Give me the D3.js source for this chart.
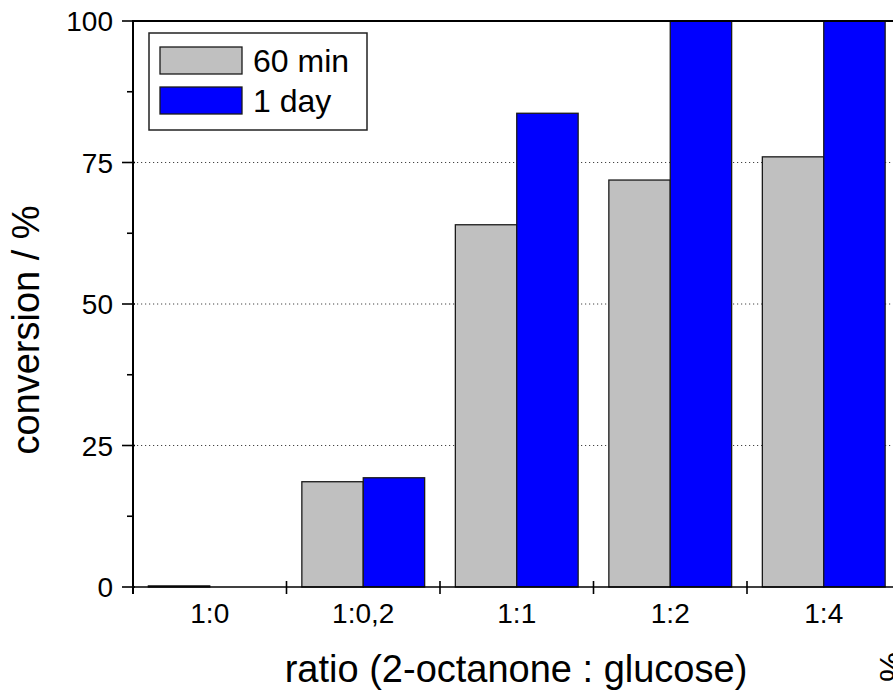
<!DOCTYPE html>
<html>
<head>
<meta charset="utf-8">
<script src="https://cdn.jsdelivr.net/npm/d3@7"></script>
<style>
  html, body { margin: 0; padding: 0; background: #fff; }
  svg { display: block; font-family: "Liberation Sans", Arial, Helvetica, sans-serif; }
</style>
</head>
<body>
<svg id="chart" width="893" height="690"></svg>
<script>
const categories = ["1:0", "1:0,2", "1:1", "1:2", "1:4"];
const seriesNames = ["60 min", "1 day"];
const values60min = [0.2, 18.6, 64.0, 71.9, 76.0];
const values1day = [0, 19.3, 83.7, 100, 100];
const seriesColors = ["#c0c0c0", "#0000ff"];
const yTicks = [0, 25, 50, 75, 100];
const yMinorTicks = [12.5, 37.5, 62.5, 87.5];
const gridTicks = [25, 50, 75];

(function () {
const svg = d3.select("#chart");
const pLeft = 133, pRight = 900.5, pTop = 21, pBottom = 587;

const x = d3.scaleBand().domain(categories).range([pLeft, pRight]).paddingInner(0).paddingOuter(0);
const inner = d3.scaleBand().domain(seriesNames).range([0, x.bandwidth()]).paddingOuter(0.25).paddingInner(0);
const y = d3.scaleLinear().domain([0, 100]).range([pBottom, pTop]);

// grid lines
svg.append("g").selectAll("line").data(gridTicks).join("line")
  .attr("x1", pLeft).attr("x2", 893)
  .attr("y1", d => y(d)).attr("y2", d => y(d))
  .attr("stroke", "#444").attr("stroke-width", 1)
  .attr("stroke-dasharray", "1.2,2.8");

// bars
const series = [values60min, values1day];
const barData = [];
categories.forEach((c, i) => {
  seriesNames.forEach((s, j) => {
    barData.push({ c, s, v: series[j][i], color: seriesColors[j] });
  });
});
svg.append("g").selectAll("rect").data(barData).join("rect")
  .attr("x", d => x(d.c) + inner(d.s))
  .attr("width", inner.bandwidth())
  .attr("y", d => y(d.v))
  .attr("height", d => y(0) - y(d.v))
  .attr("fill", d => d.color)
  .attr("stroke", "#1a1a1a")
  .attr("stroke-width", 1.3);

// axes lines
svg.append("line").attr("x1", pLeft).attr("x2", 893).attr("y1", pTop).attr("y2", pTop)
  .attr("stroke", "#000").attr("stroke-width", 2);
svg.append("line").attr("x1", pLeft).attr("x2", 893).attr("y1", pBottom).attr("y2", pBottom)
  .attr("stroke", "#000").attr("stroke-width", 1.6);
svg.append("line").attr("x1", pLeft).attr("x2", pLeft).attr("y1", pTop - 1).attr("y2", pBottom + 7)
  .attr("stroke", "#000").attr("stroke-width", 2);

// y ticks
svg.append("g").selectAll("line").data(yTicks).join("line")
  .attr("x1", pLeft - 11).attr("x2", pLeft + 2)
  .attr("y1", d => y(d)).attr("y2", d => y(d))
  .attr("stroke", "#000").attr("stroke-width", 1.6);
svg.append("g").selectAll("line").data(yMinorTicks).join("line")
  .attr("x1", pLeft - 6).attr("x2", pLeft)
  .attr("y1", d => y(d)).attr("y2", d => y(d))
  .attr("stroke", "#000").attr("stroke-width", 1.6);
svg.append("g").selectAll("text").data(yTicks).join("text")
  .attr("x", 113).attr("y", d => y(d) + 10)
  .attr("text-anchor", "end").attr("font-size", 28).attr("fill", "#000")
  .text(d => d);

// x ticks at category boundaries
const boundaries = categories.map(c => x(c)).concat([x(categories[categories.length - 1]) + x.bandwidth()]);
svg.append("g").selectAll("line").data(boundaries).join("line")
  .attr("x1", d => d).attr("x2", d => d)
  .attr("y1", pBottom - 6).attr("y2", pBottom + 7)
  .attr("stroke", "#000").attr("stroke-width", 1.6);
svg.append("g").selectAll("text").data(categories).join("text")
  .attr("x", d => x(d) + x.bandwidth() / 2).attr("y", 623)
  .attr("text-anchor", "middle").attr("font-size", 28).attr("fill", "#000")
  .text(d => d);

// axis titles
svg.append("text").attr("x", 516).attr("y", 682)
  .attr("text-anchor", "middle").attr("font-size", 38).attr("fill", "#000")
  .text("ratio (2-octanone : glucose)");
svg.append("text").attr("transform", "translate(39,330) rotate(-90)")
  .attr("text-anchor", "middle").attr("font-size", 38).attr("fill", "#000")
  .text("conversion / %");
svg.append("text").attr("transform", "translate(903,682) rotate(-90)")
  .attr("text-anchor", "start").attr("font-size", 34).attr("fill", "#000")
  .text("%");

// legend
const lg = svg.append("g");
lg.append("rect").attr("x", 149).attr("y", 33).attr("width", 218).attr("height", 97)
  .attr("fill", "#fff").attr("stroke", "#222").attr("stroke-width", 1.5);
const legendRows = lg.selectAll("g").data(seriesNames).join("g")
  .attr("transform", (d, i) => `translate(0, ${i * 40})`);
legendRows.append("rect").attr("x", 160).attr("y", 47).attr("width", 82).attr("height", 27)
  .attr("fill", (d, i) => seriesColors[i]).attr("stroke", "#1a1a1a").attr("stroke-width", 1.3);
legendRows.append("text").attr("x", 253).attr("y", 72)
  .attr("font-size", 32).attr("fill", "#000").text(d => d);
})();
</script>
</body>
</html>
